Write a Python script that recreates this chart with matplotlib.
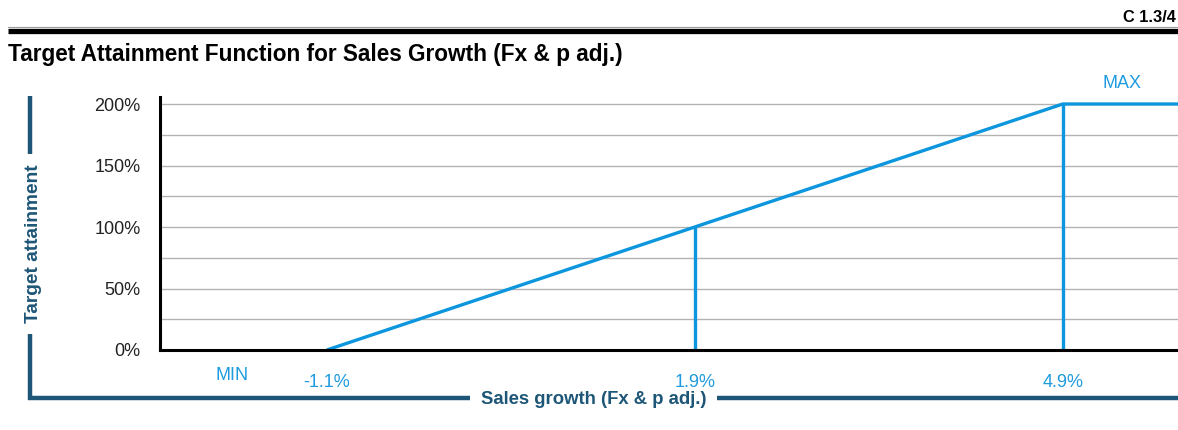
import matplotlib.pyplot as plt
from matplotlib.lines import Line2D

plt.rcParams['font.family'] = ['Liberation Sans', 'DejaVu Sans']

# data
growth = [-1.1, 1.9, 4.9, 6.5]          # sales growth (%)
attainment = [0, 100, 200, 200]         # target attainment (%)
tick_pos = [-1.1, 1.9, 4.9]
tick_labels = ['-1.1%', '1.9%', '4.9%']
y_ticks = [0, 50, 100, 150, 200]
y_labels = ['0%', '50%', '100%', '150%', '200%']

W, H = 1178, 430
blue = '#0c96de'
label_blue = '#1f9be0'
dark = '#1d5677'

fig = plt.figure(figsize=(W / 100, H / 100), dpi=100)

def fx(px):
    return px / W

def fy(py):
    return 1 - py / H

def hline(x0, x1, y, **kw):
    fig.add_artist(Line2D([fx(x0), fx(x1)], [fy(y), fy(y)], transform=fig.transFigure, **kw))

def vline(x, y0, y1, **kw):
    fig.add_artist(Line2D([fx(x), fx(x)], [fy(y0), fy(y1)], transform=fig.transFigure, **kw))

# header
hline(8, W, 27, color='#999999', lw=0.8)
hline(8, W, 30.8, color='black', lw=3.8, solid_capstyle='butt')
fig.text(fx(1176), fy(17), 'C 1.3/4', ha='right', va='center', fontsize=11.8, fontweight='bold')
fig.text(fx(8), fy(54), 'Target Attainment Function for Sales Growth (Fx & p adj.)',
         ha='left', va='center', fontsize=16.3, fontweight='bold')

ax = fig.add_axes([fx(160), fy(350), 1 - fx(160), fy(97) - fy(350)])
ax.set_xlim(-2.46, 5.84)
ax.set_ylim(0, 205.7)

for g in range(25, 201, 25):
    ax.axhline(g, color='#b3b3b3', lw=1.0, zorder=1)

ax.plot(growth, attainment, color=blue, lw=2.4, zorder=3, solid_capstyle='butt')
ax.plot([1.9, 1.9], [0, 100], color=blue, lw=2.4, zorder=3, solid_capstyle='butt')
ax.plot([4.9, 4.9], [0, 200], color=blue, lw=2.4, zorder=3, solid_capstyle='butt')

for s in ['top', 'right']:
    ax.spines[s].set_visible(False)
for s in ['left', 'bottom']:
    ax.spines[s].set_linewidth(2.2)
    ax.spines[s].set_zorder(4)

ax.set_yticks(y_ticks)
ax.set_yticklabels(y_labels, fontsize=13, color='#222222')
ax.tick_params(axis='y', length=0, pad=14)
ax.set_xticks(tick_pos)
ax.set_xticklabels(tick_labels, fontsize=13, color=label_blue)
ax.tick_params(axis='x', length=0, pad=17)

ax.text(-1.87, -21, 'MIN', ha='center', va='center', fontsize=13, color=label_blue)
ax.text(5.38, 205.7 + 11, 'MAX', ha='center', va='center', fontsize=13, color=label_blue, clip_on=False)

# axis titles with bracket lines
vline(30, 96, 154, color=dark, lw=3.2, solid_capstyle='butt')
vline(30, 334, 400, color=dark, lw=3.2, solid_capstyle='butt')
hline(28.4, 470, 398, color=dark, lw=3.2, solid_capstyle='butt')
hline(717, W, 398, color=dark, lw=3.2, solid_capstyle='butt')
fig.text(fx(33.5), fy(244), 'Target attainment', rotation=90, ha='center', va='center',
         fontsize=13.8, fontweight='bold', color=dark)
fig.text(fx(594), fy(400), 'Sales growth (Fx & p adj.)', ha='center', va='center',
         fontsize=13.3, fontweight='bold', color=dark)

fig.savefig('out.png', dpi=100)
